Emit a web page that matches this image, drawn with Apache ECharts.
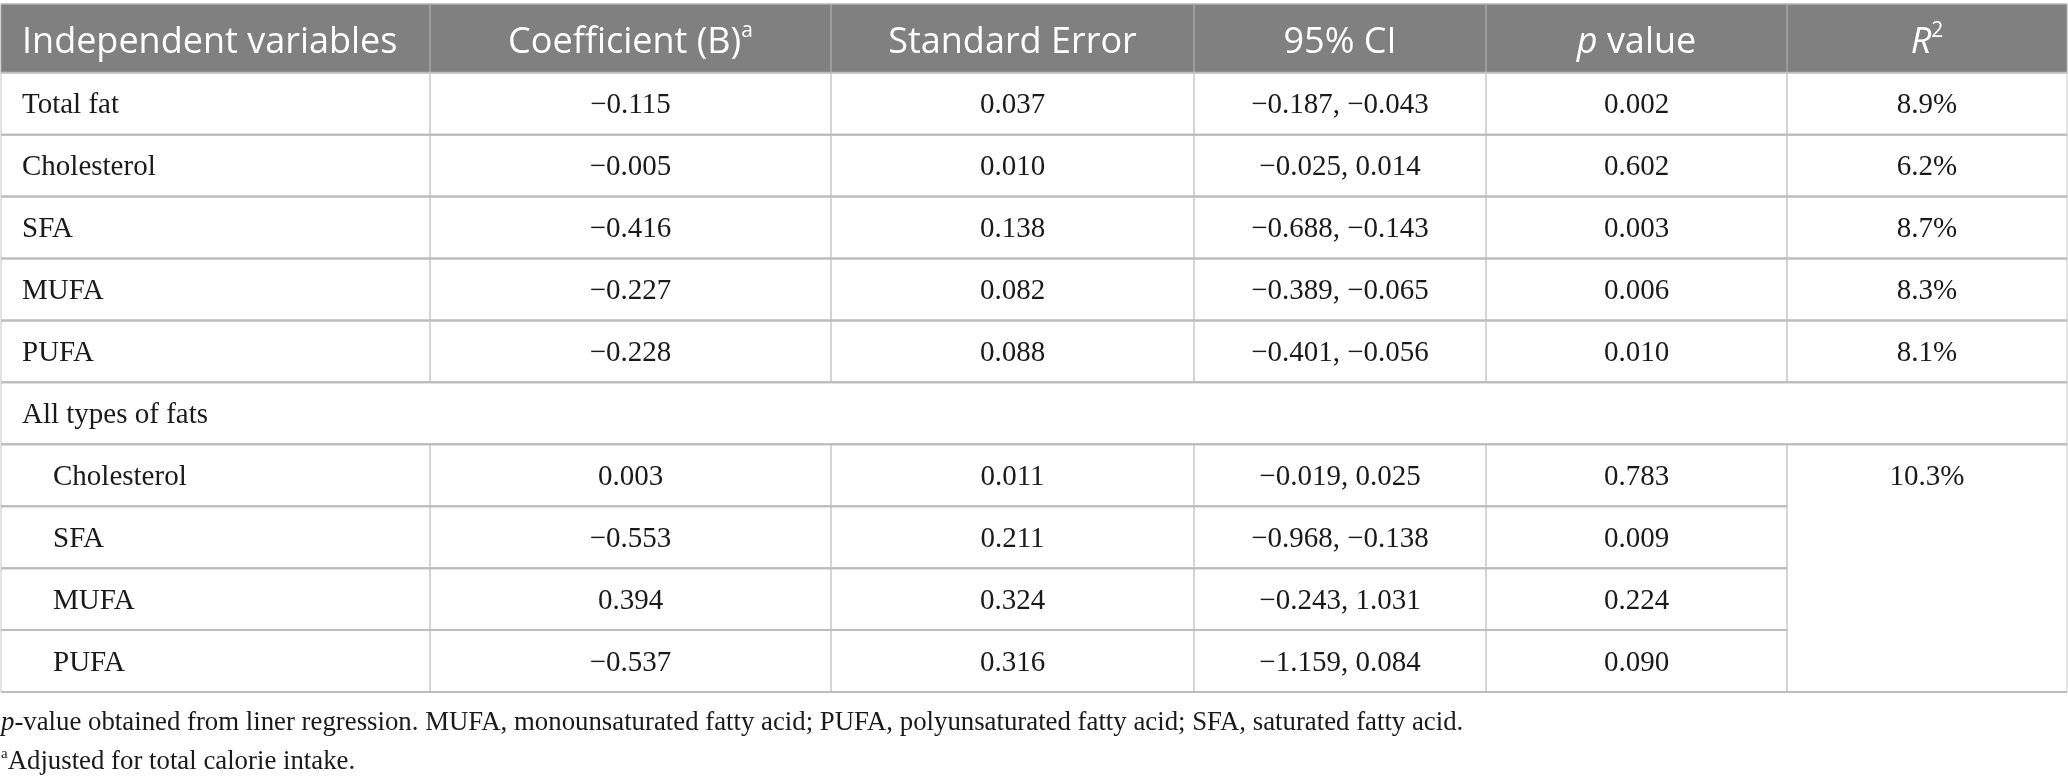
<!DOCTYPE html>
<html>
<head>
<meta charset="utf-8">
<title>Fat intake regression table</title>
<script src="https://cdn.jsdelivr.net/npm/echarts@6.0.0/dist/echarts.min.js"></script>
<style>
    html, body { margin: 0; padding: 0; background: #fff; }
    #main { width: 2068px; height: 782px; }
</style>
</head>
<body>
<div id="main"></div>
<script>
'use strict';

//============= data =============
const headers = ['Independent variables', 'Coefficient (B){sup|a}', 'Standard Error', '95% CI', '{i|p} value', '{i|R}{sup|2}'];
const variables = ['Total fat', 'Cholesterol', 'SFA', 'MUFA', 'PUFA', 'All types of fats', 'Cholesterol', 'SFA', 'MUFA', 'PUFA'];
const coefficients = [-0.115, -0.005, -0.416, -0.227, -0.228, null, 0.003, -0.553, 0.394, -0.537];
const stdErrors = [0.037, 0.010, 0.138, 0.082, 0.088, null, 0.011, 0.211, 0.324, 0.316];
const ciLower = [-0.187, -0.025, -0.688, -0.389, -0.401, null, -0.019, -0.968, -0.243, -1.159];
const ciUpper = [-0.043, 0.014, -0.143, -0.065, -0.056, null, 0.025, -0.138, 1.031, 0.084];
const pValues = [0.002, 0.602, 0.003, 0.006, 0.010, null, 0.783, 0.009, 0.224, 0.090];
const rSquared = [8.9, 6.2, 8.7, 8.3, 8.1, null, 10.3, null, null, null];
const groupRow = 5;              // "All types of fats" spans the whole row
const subRows = [6, 7, 8, 9];    // indented rows sharing one R²
const footnotes = [
    '{i|p}-value obtained from liner regression. MUFA, monounsaturated fatty acid; PUFA, polyunsaturated fatty acid; SFA, saturated fatty acid.',
    '{sup|a}Adjusted for total calorie intake.'
];

//============= layout =============
const colEdges = [0, 429, 830, 1193, 1485, 1786, 2066];   // x axis units
const headRows = 1.11;                                     // header height in row units

function fmt(n) {
    return (n < 0 ? '\u2212' : '') + Math.abs(n).toFixed(3);
}

let cells = [];
headers.forEach(function(h, c) {
    cells.push({ kind: 'head', c0: c, c1: c + 1, r0: 0, r1: headRows, mid: headRows / 2, text: h, align: c === 0 ? 'left' : 'center' });
});
variables.forEach(function(v, r) {
    let y0 = headRows + r;
    let y1 = y0 + 1;
    let mid = y0 + 0.5;
    if (r === groupRow) {
        cells.push({ kind: 'body', c0: 0, c1: 6, r0: y0, r1: y1, mid: mid, text: v, align: 'left' });
        return;
    }
    let indent = subRows.indexOf(r) >= 0;
    let values = [
        v,
        fmt(coefficients[r]),
        fmt(stdErrors[r]),
        fmt(ciLower[r]) + ', ' + fmt(ciUpper[r]),
        fmt(pValues[r])
    ];
    values.forEach(function(t, c) {
        cells.push({ kind: 'body', c0: c, c1: c + 1, r0: y0, r1: y1, mid: mid, text: t, align: c === 0 ? 'left' : 'center', indent: indent && c === 0 });
    });
    if (rSquared[r] != null) {
        let span = indent ? subRows.length : 1;
        cells.push({ kind: 'body', c0: 5, c1: 6, r0: y0, r1: y0 + span, mid: mid, text: rSquared[r].toFixed(1) + '%', align: 'center' });
    }
});

const headFont = '"Open Sans", Roboto, sans-serif';
const bodyFont = '"Liberation Serif", "DejaVu Serif", serif';

const headRich = {
    sup: { fontFamily: headFont, fontSize: 21, fontWeight: 400, fill: '#fff', lineHeight: 22, verticalAlign: 'top' },
    i: { fontFamily: headFont, fontSize: 36, fontWeight: 400, fontStyle: 'italic', fill: '#fff', lineHeight: 44 }
};

function renderCell(params, api) {
    const cell = cells[params.dataIndex];
    const head = cell.kind === 'head';
    const tl = api.coord([api.value(0), api.value(2)]);
    const br = api.coord([api.value(1), api.value(3)]);
    const mid = api.coord([api.value(0), api.value(4)]);
    const x0 = tl[0], y0 = tl[1], x1 = br[0], y1 = br[1];
    const vColor = head ? '#a4a4a4' : '#c6c6c6';
    const hColor = '#bdbdbd';

    let children = [{
        type: 'rect',
        shape: { x: x0, y: y0, width: x1 - x0, height: y1 - y0 },
        style: { fill: head ? '#808080' : '#fff' }
    }, {
        type: 'line', z2: 2,
        shape: { x1: x0, y1: y0, x2: x0, y2: y1 },
        style: { stroke: vColor, lineWidth: 1 }
    }, {
        type: 'line', z2: 2,
        shape: { x1: x1, y1: y0, x2: x1, y2: y1 },
        style: { stroke: vColor, lineWidth: 1 }
    }];
    if (head) {
        children.push({
            type: 'line', z2: 3,
            shape: { x1: x0, y1: y0, x2: x1, y2: y0 },
            style: { stroke: '#b4b4b4', lineWidth: 1.5 }
        });
    } else {
        children.push({
            type: 'line', z2: 3,
            shape: { x1: x0, y1: y0, x2: x1, y2: y0 },
            style: { stroke: hColor, lineWidth: 2 }
        }, {
            type: 'line', z2: 3,
            shape: { x1: x0, y1: y1, x2: x1, y2: y1 },
            style: { stroke: hColor, lineWidth: 2 }
        });
    }

    let tx = cell.align === 'left' ? x0 + (cell.indent ? 52 : 21) : (x0 + x1) / 2;
    children.push({
        type: 'text', z2: 4,
        style: head ? {
            text: cell.text, x: tx, y: mid[1] + 4,
            fill: '#fff', fontFamily: headFont, fontSize: 36, fontWeight: 400,
            lineHeight: 44, align: cell.align, verticalAlign: 'middle', rich: headRich
        } : {
            text: cell.text, x: tx, y: mid[1] + 2,
            fill: '#1a1a1a', fontFamily: bodyFont, fontSize: 29,
            align: cell.align, verticalAlign: 'middle'
        }
    });

    return { type: 'group', children: children };
}

const footRich = {
    i: { fontFamily: bodyFont, fontSize: 26.8, fontStyle: 'italic', color: '#1a1a1a' },
    sup: { fontFamily: bodyFont, fontSize: 15, color: '#1a1a1a', verticalAlign: 'top', lineHeight: 15 }
};

let myChart = echarts.init(document.getElementById('main'), null, { renderer: 'canvas' });

let option = {
    backgroundColor: '#fff',
    animation: false,
    title: footnotes.map(function(t, i) {
        return {
            text: t,
            left: 1,
            top: 708 + i * 39,
            padding: 0,
            textStyle: {
                fontFamily: bodyFont, fontSize: 26.8, fontWeight: 'normal',
                color: '#1a1a1a', lineHeight: 30, rich: footRich
            }
        };
    }),
    grid: { left: 1, top: 4, width: 2066, height: 688 },
    xAxis: { type: 'value', min: 0, max: colEdges[colEdges.length - 1], show: false },
    yAxis: { type: 'value', min: 0, max: headRows + variables.length, inverse: true, show: false },
    series: [{
        type: 'custom',
        silent: true,
        clip: false,
        renderItem: renderCell,
        encode: { x: [0, 1], y: [2, 3] },
        data: cells.map(function(c) {
            return [colEdges[c.c0], colEdges[c.c1], c.r0, c.r1, c.mid];
        })
    }]
};

myChart.setOption(option);
</script>
</body>
</html>
